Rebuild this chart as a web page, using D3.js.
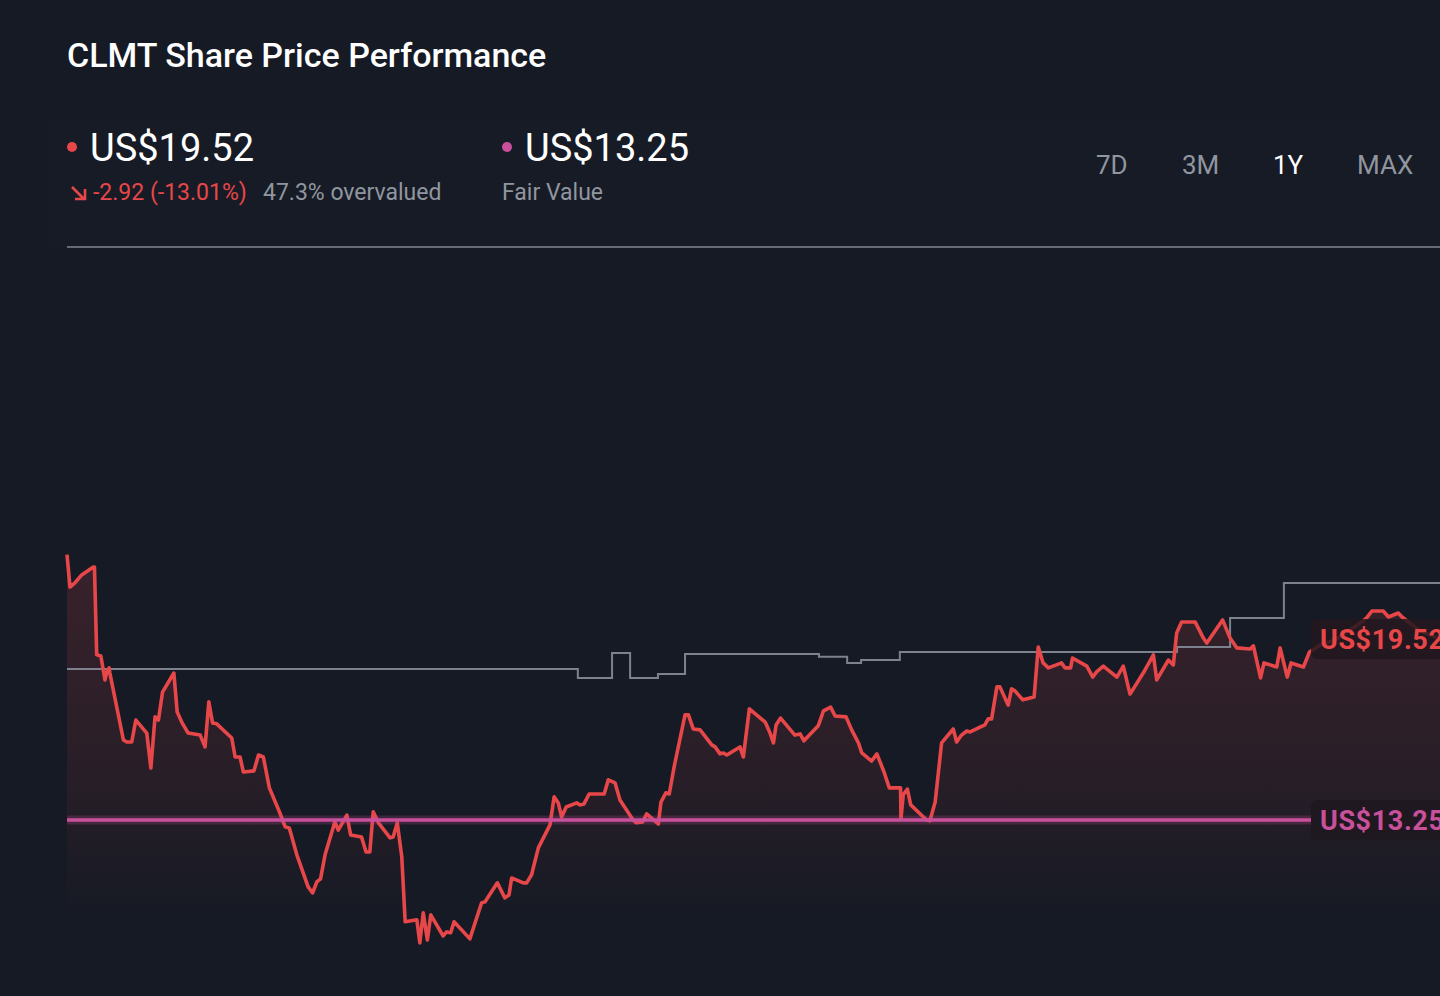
<!DOCTYPE html>
<html>
<head>
<meta charset="utf-8">
<script src="https://cdn.jsdelivr.net/npm/d3@7"></script>
<style>
	html, body { margin: 0; padding: 0; background: #151a24; overflow: hidden; }
	svg { display: block; font-family: Roboto, 'Noto Sans', sans-serif; }
</style>
</head>
<body>
<div id="viz"></div>
<script>
const WIDTH = 1440
const HEIGHT = 996

const TITLE = 'CLMT Share Price Performance'
const LAST_PRICE = 19.52
const FAIR_VALUE = 13.25
const CHANGE = -2.92
const CHANGE_PCT = -13.01
const OVERVALUED_PCT = 47.3
const RANGES = ['7D', '3M', '1Y', 'MAX']
const ACTIVE_RANGE = '1Y'

// [day of the 1Y window, share price in US$]
const price_series = [
	[0, 22.44], [0.8, 21.32], [2.1, 21.46], [3.9, 21.74], [7.0, 22.01], [7.3, 22.01], [7.9, 18.97], [9.0, 18.93],
	[10.1, 18.1], [10.6, 18.38], [11.2, 18.52], [11.4, 18.34], [15.0, 16.02], [15.9, 15.95], [17.2, 15.95], [18.3, 16.71],
	[21.2, 16.26], [22.3, 15.05], [23.4, 16.82], [24.3, 16.71], [25.4, 17.68], [28.4, 18.34], [29.3, 16.99], [30.5, 16.64],
	[32.2, 16.26], [35.4, 16.19], [36.7, 15.78], [37.7, 17.34], [38.7, 16.61], [39.8, 16.58], [43.8, 16.09], [44.7, 15.43],
	[46.0, 15.43], [46.9, 14.91], [49.7, 14.95], [50.9, 15.5], [52.2, 15.43], [53.8, 14.36], [56.6, 13.49], [58.0, 13.01],
	[59.1, 12.97], [61.1, 12.04], [64.1, 10.93], [65.3, 10.72], [66.4, 11.1], [67.4, 11.21], [68.6, 12.04], [71.2, 13.18],
	[72.1, 12.9], [74.4, 13.42], [75.4, 12.73], [78.3, 12.66], [79.5, 12.14], [80.5, 12.14], [81.4, 13.53], [82.8, 13.15],
	[85.9, 12.63], [86.7, 12.66], [87.8, 13.15], [89.0, 11.97], [89.9, 9.72], [93.0, 9.79], [93.8, 8.99], [94.7, 10.03],
	[95.8, 9.09], [96.7, 9.96], [100.0, 9.23], [100.9, 9.37], [102.0, 9.34], [102.9, 9.72], [107.1, 9.13], [110.2, 10.37],
	[111.1, 10.41], [114.4, 11.07], [116.4, 10.55], [117.5, 10.65], [118.2, 11.24], [121.3, 11.07], [122.2, 11.07], [123.5, 11.35],
	[125.3, 12.28], [128.4, 13.08], [129.5, 14.05], [130.6, 13.84], [131.5, 13.35], [132.7, 13.7], [135.5, 13.84], [136.4, 13.77],
	[137.4, 13.8], [138.8, 14.15], [142.8, 14.15], [143.9, 14.64], [145.7, 14.53], [147.0, 13.94], [150.5, 13.25], [151.3, 13.15],
	[153.0, 13.18], [154.1, 13.46], [157.2, 13.11], [157.9, 13.87], [159.2, 14.19], [160.1, 14.15], [161.4, 15.09], [164.3, 16.89],
	[165.2, 16.89], [166.5, 16.4], [168.3, 16.37], [171.4, 15.85], [172.3, 15.78], [173.6, 15.54], [174.5, 15.57], [175.4, 15.5],
	[178.9, 15.78], [179.8, 15.43], [181.4, 17.1], [185.6, 16.64], [186.9, 16.26], [187.8, 15.92], [188.5, 16.54], [189.7, 16.78],
	[193.5, 16.19], [194.9, 16.23], [195.9, 15.99], [199.7, 16.51], [201.1, 17.03], [203.0, 17.16], [204.2, 16.85], [207.1, 16.82],
	[208.6, 16.37], [210.4, 15.92], [211.3, 15.57], [213.9, 15.29], [215.3, 15.54], [217.2, 14.91], [218.6, 14.36], [221.6, 14.36],
	[221.7, 13.28], [222.3, 14.12], [223.4, 14.32], [224.3, 13.77], [228.5, 13.25], [229.4, 13.22], [230.8, 13.87], [232.5, 15.92],
	[235.6, 16.4], [236.5, 15.95], [237.8, 16.19], [239.2, 16.33], [240.1, 16.3], [244.0, 16.54], [244.9, 16.75], [245.8, 16.75],
	[247.2, 17.86], [248.0, 17.86], [250.2, 17.23], [251.1, 17.79], [252.0, 17.72], [254.1, 17.41], [257.1, 17.51], [258.2, 19.24],
	[259.5, 18.69], [260.9, 18.52], [264.4, 18.69], [265.3, 18.52], [266.8, 18.52], [267.3, 18.86], [271.1, 18.58], [272.7, 18.2],
	[273.7, 18.38], [275.5, 18.58], [279.1, 18.2], [280.8, 18.58], [282.6, 17.61], [286.1, 18.34], [288.8, 18.97], [289.7, 18.1],
	[292.8, 18.79], [294.1, 18.62], [295.0, 19.73], [296.3, 20.11], [299.9, 20.11], [302.1, 19.55], [303.0, 19.38], [307.2, 20.18],
	[309.2, 19.55], [311.0, 19.21], [314.5, 19.17], [315.4, 19.28], [317.3, 18.17], [318.2, 18.69], [321.6, 18.55], [322.5, 19.21],
	[324.4, 18.2], [325.4, 18.69], [328.7, 18.55], [330.3, 19.07], [333.2, 19.31], [337.1, 19.49], [341.1, 19.83], [343.8, 20.07],
	[345.5, 20.25], [346.9, 20.49], [349.9, 20.49], [351.3, 20.28], [353.9, 20.42], [354.9, 20.28], [359.7, 19.8], [365, 19.52]
]

// stepped grey line (price target history)
const target_series = [
	[0, 18.48], [135.8, 18.17], [144.9, 19.03], [149.7, 18.17], [157.1, 18.31], [164.3, 19.0], [199.9, 18.9],
	[207.4, 18.69], [211.1, 18.79], [221.4, 19.07], [295.1, 19.24], [309.2, 20.25], [323.5, 21.46], [365, 21.46]
]

const DAY_DOMAIN = [0, 365]
const PRICE_DOMAIN = [7.15, 33.1]

const RED = '#e8474a'
const PINK = '#c9509b'
const GREY_TEXT = '#90969f'

const PLOT_LEFT = 67
const PLOT_TOP = 247
const PLOT_BOTTOM = 925
const LABEL_X = 1311

const svg = d3
	.select('#viz')
	.append('svg')
	.attr('width', WIDTH)
	.attr('height', HEIGHT)

svg.append('rect')
	.attr('width', WIDTH)
	.attr('height', HEIGHT)
	.attr('fill', '#151a24')

// faint header card
svg.append('rect')
	.attr('x', 48)
	.attr('y', 118)
	.attr('width', WIDTH - 48)
	.attr('height', PLOT_TOP - 118)
	.attr('fill', '#171b26')

const x = d3.scaleLinear().domain(DAY_DOMAIN).range([PLOT_LEFT, WIDTH])
const y = d3.scaleLinear().domain(PRICE_DOMAIN).range([HEIGHT, PLOT_TOP])

// header
svg.append('text')
	.attr('x', 67)
	.attr('y', 67)
	.attr('fill', '#ffffff')
	.style('font-size', '34px')
	.style('font-weight', 500)
	.text(TITLE)

svg.append('circle').attr('cx', 72).attr('cy', 147).attr('r', 5).attr('fill', RED)
svg.append('text')
	.attr('x', 90)
	.attr('y', 161)
	.attr('fill', '#ffffff')
	.style('font-size', '38px')
	.text(`US$${LAST_PRICE.toFixed(2)}`)

svg.append('path')
	.attr('d', 'M72,187 L84,199 M75,199 L85,199 L85,189')
	.attr('fill', 'none')
	.attr('stroke', RED)
	.attr('stroke-width', 2.6)

svg.append('text')
	.attr('x', 93)
	.attr('y', 200)
	.attr('fill', RED)
	.style('font-size', '23px')
	.text(`${CHANGE.toFixed(2)} (${CHANGE_PCT.toFixed(2)}%)`)

svg.append('text')
	.attr('x', 263)
	.attr('y', 200)
	.attr('fill', GREY_TEXT)
	.style('font-size', '23px')
	.text(`${OVERVALUED_PCT}% overvalued`)

svg.append('circle').attr('cx', 507).attr('cy', 147).attr('r', 5).attr('fill', PINK)
svg.append('text')
	.attr('x', 525)
	.attr('y', 161)
	.attr('fill', '#ffffff')
	.style('font-size', '38px')
	.text(`US$${FAIR_VALUE.toFixed(2)}`)

svg.append('text')
	.attr('x', 502)
	.attr('y', 200)
	.attr('fill', GREY_TEXT)
	.style('font-size', '23px')
	.text('Fair Value')

const range_x = [1096, 1182, 1273, 1357]
svg.append('g')
	.selectAll('text')
	.data(RANGES)
	.enter()
	.append('text')
	.attr('x', (d, i) => range_x[i])
	.attr('y', 174)
	.attr('fill', (d) => (d === ACTIVE_RANGE ? '#ffffff' : GREY_TEXT))
	.style('font-size', '26px')
	.text((d) => d)

svg.append('line')
	.attr('x1', 67)
	.attr('x2', WIDTH)
	.attr('y1', PLOT_TOP)
	.attr('y2', PLOT_TOP)
	.attr('stroke', '#646b77')
	.attr('stroke-width', 2)

// area gradient
const defs = svg.append('defs')
const grad = defs
	.append('linearGradient')
	.attr('id', 'area-grad')
	.attr('gradientUnits', 'userSpaceOnUse')
	.attr('x1', 0)
	.attr('x2', 0)
	.attr('y1', y(d3.max(price_series, (d) => d[1])))
	.attr('y2', PLOT_BOTTOM)
grad.append('stop').attr('offset', 0).attr('stop-color', RED).attr('stop-opacity', 0.17)
grad.append('stop').attr('offset', 0.6).attr('stop-color', RED).attr('stop-opacity', 0.09)
grad.append('stop').attr('offset', 1).attr('stop-color', RED).attr('stop-opacity', 0)

const plot = svg.append('g')

plot.append('path')
	.datum(price_series)
	.attr('fill', 'url(#area-grad)')
	.attr(
		'd',
		d3
			.area()
			.x((d) => x(d[0]))
			.y0(PLOT_BOTTOM)
			.y1((d) => y(d[1]))
	)

plot.append('path')
	.datum(target_series)
	.attr('fill', 'none')
	.attr('stroke', '#7c838e')
	.attr('stroke-width', 2)
	.attr(
		'd',
		d3
			.line()
			.curve(d3.curveStepAfter)
			.x((d) => x(d[0]))
			.y((d) => y(d[1]))
	)

plot.append('path')
	.datum(price_series)
	.attr('fill', 'none')
	.attr('stroke', RED)
	.attr('stroke-width', 3.6)
	.attr('stroke-linejoin', 'round')
	.attr(
		'd',
		d3
			.line()
			.x((d) => x(d[0]))
			.y((d) => y(d[1]))
	)

// fair value line
plot.append('line')
	.attr('x1', PLOT_LEFT)
	.attr('x2', LABEL_X)
	.attr('y1', y(FAIR_VALUE))
	.attr('y2', y(FAIR_VALUE))
	.attr('stroke', PINK)
	.attr('stroke-opacity', 0.22)
	.attr('stroke-width', 9)
plot.append('line')
	.attr('x1', PLOT_LEFT)
	.attr('x2', LABEL_X)
	.attr('y1', y(FAIR_VALUE))
	.attr('y2', y(FAIR_VALUE))
	.attr('stroke', PINK)
	.attr('stroke-width', 3.5)

// value labels on the right
const labels = [
	{ value: LAST_PRICE, color: RED, bg: '#22181f' },
	{ value: FAIR_VALUE, color: PINK, bg: '#1f1820' },
]
const label_g = svg
	.append('g')
	.selectAll('g')
	.data(labels)
	.enter()
	.append('g')
	.attr('transform', (d) => `translate(${LABEL_X}, ${y(d.value)})`)

label_g
	.append('rect')
	.attr('x', 0)
	.attr('y', -20)
	.attr('width', 160)
	.attr('height', 40)
	.attr('rx', 6)
	.attr('fill', (d) => d.bg)
	.attr('fill-opacity', 0.85)

label_g
	.append('text')
	.attr('x', 9)
	.attr('y', 10)
	.attr('fill', (d) => d.color)
	.style('font-size', '27px')
	.style('font-weight', 700)
	.style('letter-spacing', '0.6px')
	.text((d) => `US$${d.value.toFixed(2)}`)
</script>
</body>
</html>
